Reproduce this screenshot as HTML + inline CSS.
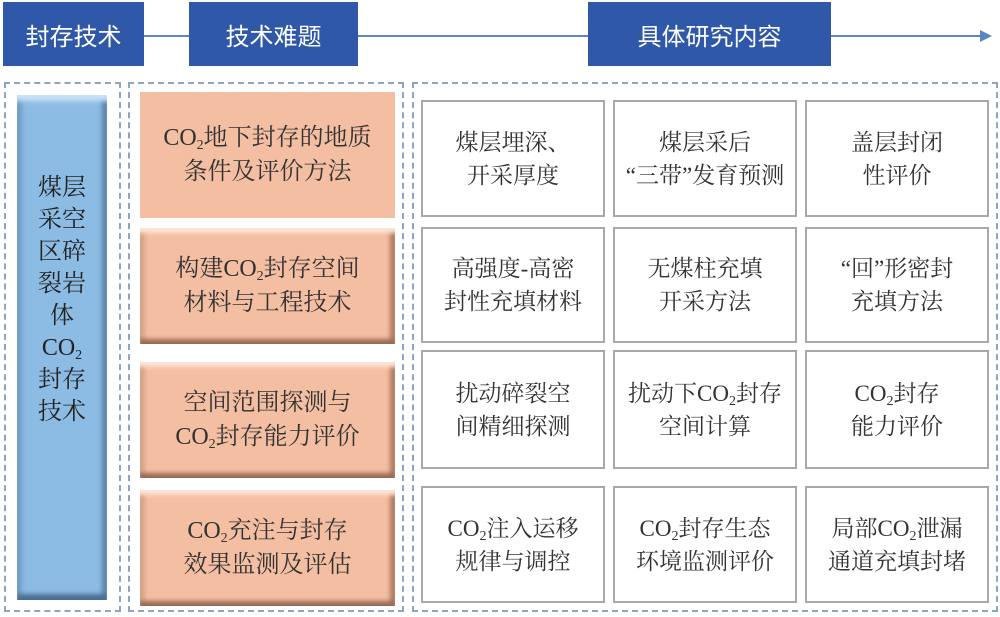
<!DOCTYPE html>
<html><head><meta charset="utf-8"><style>
body{margin:0;width:1000px;height:617px;background:#fff;position:relative;overflow:hidden;font-family:"Liberation Serif","Noto Serif CJK SC",serif;}
.a{position:absolute;box-sizing:border-box;display:flex;align-items:center;justify-content:center;text-align:center;}
.a>div{display:block;}
.h{background:#2f58a8;color:#fff;font-size:24px;font-family:"Liberation Sans","Noto Sans CJK SC",sans-serif;}
.d{position:absolute;box-sizing:border-box;border:2px dashed #8ea4c0;}
.c{border:2px solid #a8a8a8;background:#fff;font-size:23px;line-height:33px;color:#333;}
.o{background:#f3bea2;font-size:24px;line-height:34px;color:#333;}
.bv{box-shadow:inset 0 7px 4px -2px #fde4d4,inset 0 -7px 4px -2px #9a6a54,inset 7px 0 4px -2px #d9a387,inset -7px 0 4px -2px #b07a60;}
sub{font-size:14px;vertical-align:-4px;line-height:0}
</style></head><body>
<div style="position:absolute;left:143px;top:35px;width:840px;height:2px;background:#5b86c4"></div>
<div style="position:absolute;left:980px;top:30px;width:0;height:0;border-left:12px solid #5b86c4;border-top:6px solid transparent;border-bottom:6px solid transparent"></div>
<div class="a h" style="left:3px;top:2px;width:141px;height:64px"><div>封存技术</div></div>
<div class="a h" style="left:189px;top:2px;width:169px;height:64px"><div>技术难题</div></div>
<div class="a h" style="left:588px;top:2px;width:243px;height:64px"><div>具体研究内容</div></div>

<div class="d" style="left:4px;top:82px;width:117px;height:530px"></div>
<div class="d" style="left:128px;top:82px;width:276px;height:530px"></div>
<div class="d" style="left:412px;top:82px;width:586px;height:530px"></div>

<div class="a" style="left:17px;top:95px;width:90px;height:505px;padding-bottom:95px;background:#8cbbe3;font-size:24px;line-height:32px;color:#222;box-shadow:inset 0 8px 5px -2px #c8e2f6,inset 0 -8px 5px -2px #4a6f90,inset 7px 0 5px -2px #6f9dc5,inset -7px 0 5px -2px #5a84aa"><div>煤层<br>采空<br>区碎<br>裂岩<br>体<br>CO<sub>2</sub><br>封存<br>技术</div></div>

<div class="a o" style="left:140px;top:92px;width:255px;height:126px"><div>CO<sub>2</sub>地下封存的地质<br>条件及评价方法</div></div>
<div class="a o bv" style="left:140px;top:228px;width:255px;height:116px"><div>构建CO<sub>2</sub>封存空间<br>材料与工程技术</div></div>
<div class="a o bv" style="left:140px;top:362px;width:255px;height:116px"><div>空间范围探测与<br>CO<sub>2</sub>封存能力评价</div></div>
<div class="a o bv" style="left:140px;top:490px;width:255px;height:116px"><div>CO<sub>2</sub>充注与封存<br>效果监测及评估</div></div>

<div class="a c" style="left:421px;top:100px;width:184px;height:117px"><div>煤层埋深、<br>开采厚度</div></div>
<div class="a c" style="left:613px;top:100px;width:184px;height:117px"><div>煤层采后<br>“三带”发育预测</div></div>
<div class="a c" style="left:805px;top:100px;width:184px;height:117px"><div>盖层封闭<br>性评价</div></div>

<div class="a c" style="left:421px;top:227px;width:184px;height:116px"><div>高强度-高密<br>封性充填材料</div></div>
<div class="a c" style="left:613px;top:227px;width:184px;height:116px"><div>无煤柱充填<br>开采方法</div></div>
<div class="a c" style="left:805px;top:227px;width:184px;height:116px"><div>“回”形密封<br>充填方法</div></div>

<div class="a c" style="left:421px;top:350px;width:184px;height:119px"><div>扰动碎裂空<br>间精细探测</div></div>
<div class="a c" style="left:613px;top:350px;width:184px;height:119px"><div>扰动下CO<sub>2</sub>封存<br>空间计算</div></div>
<div class="a c" style="left:805px;top:350px;width:184px;height:119px"><div>CO<sub>2</sub>封存<br>能力评价</div></div>

<div class="a c" style="left:421px;top:486px;width:184px;height:117px"><div>CO<sub>2</sub>注入运移<br>规律与调控</div></div>
<div class="a c" style="left:613px;top:486px;width:184px;height:117px"><div>CO<sub>2</sub>封存生态<br>环境监测评价</div></div>
<div class="a c" style="left:805px;top:486px;width:184px;height:117px"><div>局部CO<sub>2</sub>泄漏<br>通道充填封堵</div></div>
</body></html>
